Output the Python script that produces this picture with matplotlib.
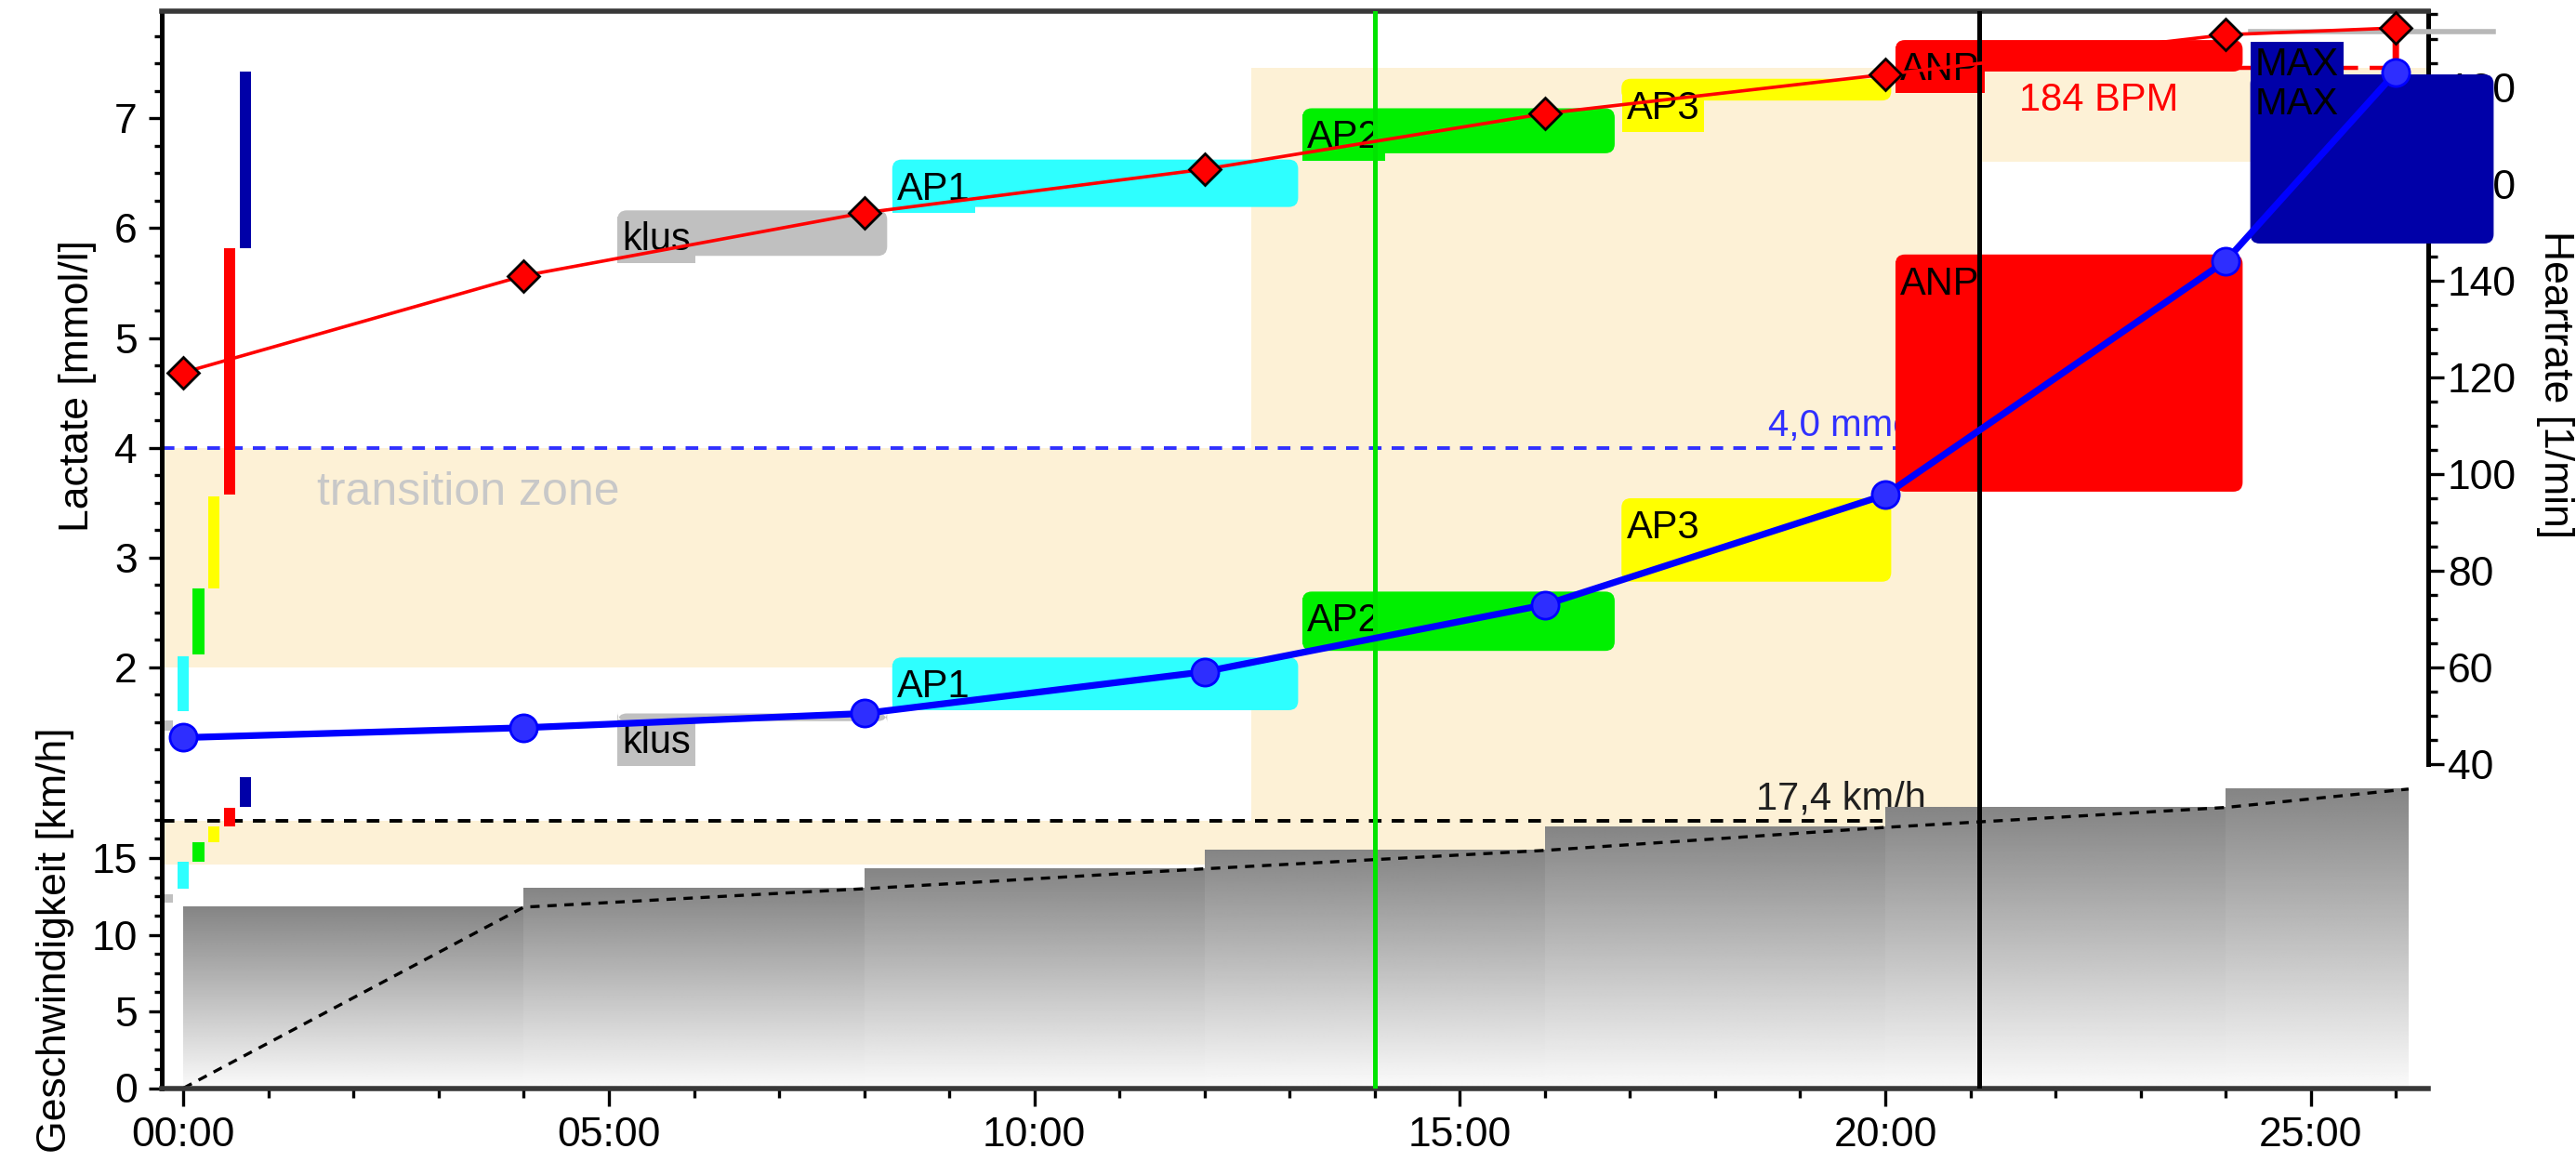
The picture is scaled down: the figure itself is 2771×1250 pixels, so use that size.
import numpy as np
import matplotlib
matplotlib.use("Agg")
import matplotlib.pyplot as plt
from matplotlib.patches import Rectangle, FancyBboxPatch, ConnectionPatch
from matplotlib.ticker import FixedLocator, FuncFormatter
from matplotlib.transforms import blended_transform_factory

plt.rcParams['font.family'] = ['Liberation Sans', 'DejaVu Sans']

# measurements of the step test (time in minutes)
times = [0, 4, 8, 12, 16, 20, 24, 26]
lactate = [1.36, 1.45, 1.58, 1.96, 2.57, 3.57, 5.70, 7.42]
heartrate = [121, 141, 154, 163, 174.5, 182.6, 190.8, 192.2]

# treadmill stages
stage_start = [0, 4, 8, 12, 16, 20, 24]
stage_end = [4, 8, 12, 16, 20, 24, 26.15]
stage_speed = [11.8, 13.0, 14.3, 15.5, 17.0, 18.3, 19.5]

# training zones
zones = ['klus', 'AP1', 'AP2', 'AP3', 'ANP', 'MAX']
zone_colors = ['#C0C0C0', '#2EFFFF', '#00F000', '#FFFF00', '#FF0000', '#0000A8']
zone_t0 = [5.1, 8.33, 13.15, 16.9, 20.12, 24.29]
zone_t1 = [8.27, 13.1, 16.82, 20.07, 24.2, 27.15]
zone_lac_lo = [1.51, 1.61, 2.15, 2.78, 3.60, 5.86]
zone_lac_hi = [1.58, 2.09, 2.69, 3.54, 5.76, 7.40]
zone_hr_lo = [145.1, 155.2, 166.3, 177.2, 183.2, 190.6]
zone_hr_hi = [154.5, 165.0, 175.6, 181.7, 189.7, 190.6]

# zone ranges for the small bars next to the left axis
bar_lac_lo = [1.42, 1.60, 2.12, 2.72, 3.57, 5.82]
bar_lac_hi = [1.52, 2.10, 2.72, 3.56, 5.82, 7.43]
bar_speed_lo = [12.1, 13.03, 14.79, 16.06, 17.09, 18.34]
bar_speed_hi = [12.65, 14.73, 16.06, 17.08, 18.30, 20.25]

# transition zone and anaerobic threshold
trans_time = [12.55, 21.1]
trans_lac = [2.0, 4.0]
trans_speed = [14.6, 17.4]
trans_hr = [164.6, 184.0]
anp_time = 21.1
anp_lac = 4.0
anp_speed = 17.4
anp_hr = 184
marker_time = 14.0
hr_max_line = 191.5

xlim = (-0.255, 26.38)
lac_lim = (-1.832, 7.973)
sp_lim = (0, 70.2)
hr_lim = (-26.9, 195.6)

fig = plt.figure(figsize=(13.855, 6.25), dpi=200)
ax = fig.add_axes([0.0628, 0.0636, 0.8798, 0.9265])
ax.set_xlim(xlim)
ax.set_ylim(lac_lim)
ax_sp = ax.twinx()
ax_hr = ax.twinx()


def set_limits():
    ax.set_xlim(xlim)
    ax.set_ylim(lac_lim)
    ax_sp.set_ylim(sp_lim)
    ax_hr.set_ylim(hr_lim)


set_limits()

for a in (ax, ax_sp):
    for s in a.spines.values():
        s.set_visible(False)
ax_hr.spines['left'].set_color('black')
ax_hr.spines['left'].set_linewidth(1.8)
ax_hr.spines['right'].set_color('black')
ax_hr.spines['right'].set_linewidth(1.8)
ax_hr.spines['right'].set_bounds(40, hr_lim[1])
for side in ('top', 'bottom'):
    ax_hr.spines[side].set_color('#383838')
    ax_hr.spines[side].set_linewidth(2.0)

# ticks
ax.xaxis.set_major_locator(FixedLocator([0, 5, 10, 15, 20, 25]))
ax.xaxis.set_minor_locator(FixedLocator(np.arange(0, 27, 1)))
ax.xaxis.set_major_formatter(FuncFormatter(lambda v, p: f"{int(round(v)):02d}:00"))
ax.tick_params(axis='x', which='major', length=7, width=1.2, pad=4, labelsize=16)
ax.tick_params(axis='x', which='minor', length=3.5, width=1.2)

ax.yaxis.set_major_locator(FixedLocator([2, 3, 4, 5, 6, 7]))
ax.yaxis.set_minor_locator(FixedLocator(np.arange(1.25, 7.8, 0.25)))
ax.tick_params(axis='y', which='major', length=5, width=1.2, pad=4.5, labelsize=16)
ax.tick_params(axis='y', which='minor', length=3, width=1.2)

ax_sp.yaxis.tick_left()
ax_sp.yaxis.set_major_locator(FixedLocator([0, 5, 10, 15]))
ax_sp.yaxis.set_minor_locator(FixedLocator(np.arange(0, 20.1, 1.25)))
ax_sp.tick_params(axis='y', which='major', length=5, width=1.2, pad=4.5, labelsize=16)
ax_sp.tick_params(axis='y', which='minor', length=3, width=1.2)

ax_hr.yaxis.set_major_locator(FixedLocator(np.arange(40, 181, 20)))
ax_hr.yaxis.set_minor_locator(FixedLocator(np.arange(40, 196, 5)))
ax_hr.tick_params(axis='y', which='major', length=6, width=1.2, pad=1.5, labelsize=16)
ax_hr.tick_params(axis='y', which='minor', length=3.5, width=1.2)

T_lac = ax.transData
T_sp = ax_sp.transData
T_hr = ax_hr.transData
beige = '#FDF1D6'


def unit_aspect(tr):
    # y data units that have the same pixel length as one x data unit
    p0 = tr.transform((0, 0))
    p1 = tr.transform((1, 1))
    return (p1[0] - p0[0]) / (p1[1] - p0[1])


def zone_box(x0, y0, w, h, color, tr):
    return FancyBboxPatch((x0, y0), w, h,
                          boxstyle='round,pad=0,rounding_size=0.11',
                          mutation_aspect=unit_aspect(tr), transform=tr,
                          fc=color, ec='none', zorder=2.6, clip_on=False)


# transition zone
ax_hr.add_patch(Rectangle((xlim[0], trans_lac[0]), anp_time - xlim[0],
                          trans_lac[1] - trans_lac[0], transform=T_lac,
                          fc=beige, ec='none', zorder=0.5))
ax_hr.add_patch(Rectangle((xlim[0], trans_speed[0]), anp_time - xlim[0],
                          trans_speed[1] - trans_speed[0], transform=T_sp,
                          fc=beige, ec='none', zorder=0.5))
ax_hr.add_patch(Rectangle((trans_time[0], trans_hr[0]), xlim[1] - trans_time[0],
                          trans_hr[1] - trans_hr[0], transform=T_hr,
                          fc=beige, ec='none', zorder=0.5))
f_top = ax_hr.transLimits.transform((0, trans_hr[1]))[1]
f_bot = ax_sp.transLimits.transform((0, trans_speed[0]))[1]
blend = blended_transform_factory(ax_hr.transData, ax_hr.transAxes)
ax_hr.add_patch(Rectangle((trans_time[0], f_bot), trans_time[1] - trans_time[0],
                          f_top - f_bot, transform=blend,
                          fc=beige, ec='none', zorder=0.5))
ax_hr.text(1.57, 3.59, 'transition zone', transform=T_lac, color='#C8C8C8',
           fontsize=18, ha='left', va='center', zorder=0.9)

# threshold lines and their labels
ax_hr.plot([xlim[0], anp_time], [anp_lac, anp_lac], transform=T_lac,
           color='#3030FF', lw=1.4, dashes=(3.5, 2.8), zorder=0.8)
ax_hr.plot([xlim[0], anp_time], [anp_speed, anp_speed], transform=T_sp,
           color='black', lw=1.4, dashes=(3.5, 2.8), zorder=0.8)
ax_hr.plot([anp_time, times[-1]], [anp_hr, anp_hr], transform=T_hr,
           color='#FF0000', lw=1.6, dashes=(3.5, 2.8), zorder=0.8)
ax_hr.annotate(f"{anp_lac:.1f} mmol/l".replace('.', ','), xy=(18.62, anp_lac),
               xycoords=T_lac, xytext=(0, 1.5), textcoords='offset points',
               ha='left', va='bottom', color='#3030FF', fontsize=14.5, zorder=0.9)
ax_hr.annotate(f"{anp_speed:.1f} km/h".replace('.', ','), xy=(18.48, anp_speed),
               xycoords=T_sp, xytext=(0, 1.5), textcoords='offset points',
               ha='left', va='bottom', color='#202020', fontsize=15, zorder=0.9)
ax_hr.annotate(f"{anp_hr} BPM", xy=(21.57, anp_hr), xycoords=T_hr,
               xytext=(0, -5.5), textcoords='offset points',
               ha='left', va='top', color='#FF0000', fontsize=15, zorder=0.9)

# speed stages as shaded bars
grad = np.linspace(0.52, 0.98, 256).reshape(-1, 1)
for s0, s1, v in zip(stage_start, stage_end, stage_speed):
    ax_hr.imshow(grad, extent=(s0, s1, 0, v), transform=T_sp, aspect='auto',
                 cmap='gray', vmin=0, vmax=1, origin='upper',
                 interpolation='bilinear', zorder=1)
ax_hr.plot([0] + stage_end, [0] + stage_speed, transform=T_sp, color='black',
           lw=1.2, dashes=(3, 2.5), zorder=1.5)

# zone boxes on the lactate curve and on the heart rate curve
for name, c, t0, t1, l0, l1, h0, h1 in zip(zones, zone_colors, zone_t0, zone_t1,
                                           zone_lac_lo, zone_lac_hi,
                                           zone_hr_lo, zone_hr_hi):
    ax_hr.add_patch(zone_box(t0, l0, t1 - t0, l1 - l0, c, T_lac))
    if h1 > h0:
        ax_hr.add_patch(zone_box(t0, h0, t1 - t0, h1 - h0, c, T_hr))
    for y, tr in ((l1, T_lac), (h1, T_hr)):
        ax_hr.annotate(name, xy=(t0, y), xycoords=tr, xytext=(1.9, -11.5),
                       textcoords='offset points', ha='left', va='center',
                       fontsize=15, color='black', zorder=2.7,
                       annotation_clip=False,
                       bbox=dict(boxstyle='square,pad=0.12', fc=c, ec='none'))

# zone ranges next to the axis
bar_w = 0.135
for i, c in enumerate(zone_colors):
    xc = -0.19 + 0.183 * i
    ax_hr.add_patch(Rectangle((xc - bar_w / 2, bar_lac_lo[i]), bar_w,
                              bar_lac_hi[i] - bar_lac_lo[i], transform=T_lac,
                              fc=c, ec='none', zorder=2.2))
    ax_hr.add_patch(Rectangle((xc - bar_w / 2, bar_speed_lo[i]), bar_w,
                              bar_speed_hi[i] - bar_speed_lo[i], transform=T_sp,
                              fc=c, ec='none', zorder=2.2))

ax_hr.plot([zone_t0[-1], zone_t1[-1]], [hr_max_line, hr_max_line], transform=T_hr,
           color='#B8B8B8', lw=2, clip_on=False, zorder=2.65)

# markers for the current position and the threshold
ax_hr.axvline(marker_time, color='#00E400', lw=1.8, zorder=3)
ax_hr.axvline(anp_time, color='black', lw=1.8, zorder=3)

# curves
ax_hr.plot(times, lactate, transform=T_lac, color='#0000FF', lw=2.6,
           marker='o', ms=10.5, mfc='#2E2EFF', mec='#0000FF', zorder=4.5,
           clip_on=False)
con = ConnectionPatch(xyA=(times[-1], heartrate[-1]), coordsA=T_hr,
                      xyB=(times[-1], lactate[-1]), coordsB=T_lac,
                      arrowstyle='-', color='#FF0000', lw=2.5,
                      shrinkA=0, shrinkB=0, zorder=4.4)
ax_hr.add_artist(con)
ax_hr.plot(times, heartrate, color='#FF0000', lw=1.3, marker='D', ms=8.5,
           mfc='#FF0000', mec='black', mew=1.0, zorder=5, clip_on=False)

# axis titles
fig.text(0.030, 0.668, 'Lactate [mmol/l]', rotation=90, ha='center', va='center',
         fontsize=16)
fig.text(0.0213, 0.191, 'Geschwindigkeit [km/h]', rotation=90, ha='center',
         va='center', fontsize=16)
fig.text(0.9917, 0.669, 'Heartrate [1/min]', rotation=270, ha='center',
         va='center', fontsize=16)

set_limits()
fig.savefig('out.png', dpi=200)
